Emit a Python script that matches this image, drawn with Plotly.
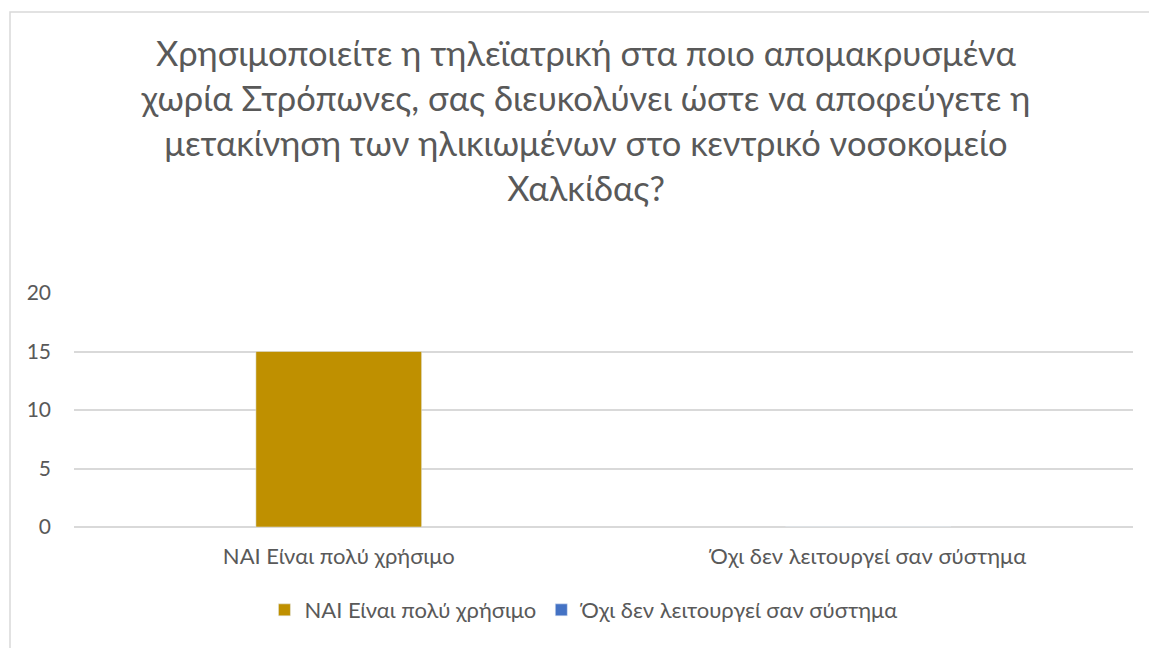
import plotly.graph_objects as go

categories = ["ΝΑΙ Είναι πολύ χρήσιμο", "Όχι δεν λειτουργεί σαν σύστημα"]
values = [15, 0]
colors = ["#BF9000", "#4472C4"]
y_ticks = [0, 5, 10, 15, 20]
title_text = ("Χρησιμοποιείτε η τηλεϊατρική στα ποιο απομακρυσμένα<br>"
              "χωρία Στρόπωνες, σας διευκολύνει ώστε να αποφεύγετε η<br>"
              "μετακίνηση των ηλικιωμένων στο κεντρικό νοσοκομείο<br>"
              "Χαλκίδας?")

FONT = "Lato"
W, H = 1149, 648
L, R, T, B = 74, 16, 293, 121

fig = go.Figure()
for cat, val, col in zip(categories, values, colors):
    fig.add_trace(go.Bar(
        x=[cat], y=[val], name=cat, marker_color=col,
        width=0.313, offsetgroup="a",
    ))

fig.update_layout(
    width=W, height=H,
    margin=dict(l=L, r=R, t=T, b=B),
    paper_bgcolor="white", plot_bgcolor="white",
    barmode="overlay",
    font=dict(family=FONT, color="#595959", size=22),
    title=dict(text=title_text, x=586 / W, xanchor="center", xref="container",
               y=1 - 66 / H, yanchor="top", yref="container",
               font=dict(family=FONT, size=34.5, color="#595959")),
    showlegend=True,
    legend=dict(orientation="h", x=0.482, xanchor="center", y=-0.355, yanchor="middle",
                font=dict(size=22, color="#595959"), itemwidth=30,
                traceorder="normal"),
    xaxis=dict(categoryorder="array", categoryarray=categories,
               showgrid=False, showline=False, ticks="",
               tickfont=dict(size=22, color="#595959"), ticklabelstandoff=14),
    yaxis=dict(range=[0, 20], tickvals=y_ticks, showgrid=True,
               gridcolor="#D9D9D9", gridwidth=1.5, zeroline=True,
               zerolinecolor="#D9D9D9", zerolinewidth=1.5, showline=False,
               ticks="", tickfont=dict(size=21, color="#595959"),
               ticklabelstandoff=22),
)

pw, ph = W - L - R, H - T - B
def px_x(p):
    return (p - L) / pw
def px_y(p):
    return (H - B - p) / ph

fig.add_shape(type="rect", xref="paper", yref="paper",
              x0=px_x(10), x1=px_x(1200), y0=px_y(700), y1=px_y(12),
              line=dict(color="#D9D9D9", width=1.5), fillcolor="rgba(0,0,0,0)",
              layer="below")

fig.write_html("out.html", config={"displayModeBar": False},
               post_script="document.body.style.margin='0';document.body.style.overflow='hidden';")
